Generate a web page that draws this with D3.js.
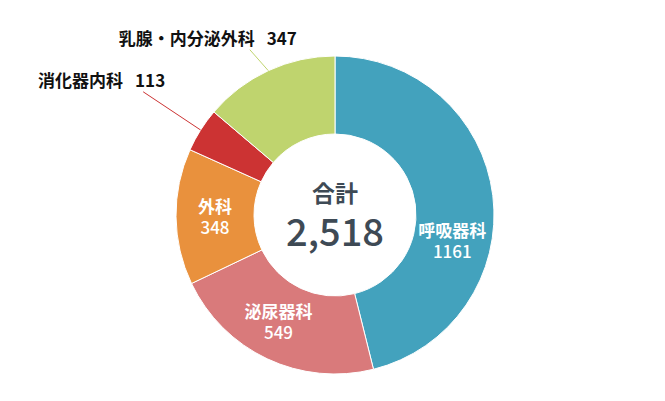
<!DOCTYPE html>
<html>
<head>
<meta charset="utf-8">
<script src="https://cdn.jsdelivr.net/npm/d3@7"></script>
<style>
  body { margin: 0; background: #fff; }
  text { font-family: "Noto Sans CJK JP", "Noto Sans", sans-serif; }
</style>
</head>
<body>
<svg id="chart" width="665" height="401"></svg>
<script>
// departments, clockwise from the top
const departments = ["呼吸器科", "泌尿器科", "外科", "消化器内科", "乳腺・内分泌外科"];
const counts = [1161, 549, 348, 113, 347];
const colors = ["#43a2bd", "#d97a7b", "#e9913d", "#cc3333", "#bfd46e"];
const totalLabel = "合計";

const CX = 335;
const CY = 215;
const OUTER_R = 159;
const INNER_R = 81;
const LABEL_R = 120;

// slices too thin for an inside label get a leader line
const outsideLabels = {
  "消化器内科": { r: 228, shift: 0.007, dx: 22, dy: -5 },
  "乳腺・内分泌外科": { r: 186, shift: -0.043, dx: 47, dy: -5 },
};
// small manual nudge of inside labels (angle, radians)
const insideShift = { "呼吸器科": 0.335, "泌尿器科": 0.05 };

const data = departments.map((name, i) => ({ name, value: counts[i], color: colors[i] }));
const total = d3.sum(counts);

const svg = d3.select("#chart");
const g = svg.append("g").attr("transform", `translate(${CX},${CY})`);

const pie = d3.pie().value((d) => d.value).sort(null);
const arc = d3.arc().innerRadius(INNER_R).outerRadius(OUTER_R);
const arcs = pie(data);

g.selectAll("path.slice")
  .data(arcs)
  .join("path")
  .attr("class", "slice")
  .attr("d", arc)
  .attr("fill", (d) => d.data.color)
  .attr("stroke", "#fff")
  .attr("stroke-width", 1);

// inside labels: name on one line, count below
const inside = arcs.filter((d) => !outsideLabels[d.data.name]);
const insideG = g.selectAll("g.inside")
  .data(inside)
  .join("g")
  .attr("class", "inside")
  .attr("text-anchor", "middle")
  .attr("fill", "#fff")
  .attr("font-size", 17)
  .attr("transform", (d) => {
    const a = (d.startAngle + d.endAngle) / 2 + (insideShift[d.data.name] || 0);
    const [x, y] = d3.pointRadial(a, LABEL_R);
    return `translate(${x},${y})`;
  });
insideG.append("text").attr("y", -3).attr("font-weight", 700).text((d) => d.data.name);
insideG.append("text").attr("y", 18).attr("font-weight", 500).text((d) => d.data.value);

// outside labels with leader lines
const outside = arcs.filter((d) => outsideLabels[d.data.name]);
outside.forEach((d) => {
  const cfg = outsideLabels[d.data.name];
  const mid = (d.startAngle + d.endAngle) / 2;
  const p0 = d3.pointRadial(mid, OUTER_R);
  const p1 = d3.pointRadial(mid + cfg.shift, cfg.r);
  g.append("line")
    .attr("x1", p0[0]).attr("y1", p0[1])
    .attr("x2", p1[0]).attr("y2", p1[1])
    .attr("stroke", d.data.color)
    .attr("stroke-width", 1);
  const t = g.append("text")
    .attr("x", p1[0] + cfg.dx)
    .attr("y", p1[1] + cfg.dy)
    .attr("text-anchor", "end")
    .attr("fill", "#111")
    .attr("font-size", 17)
    .attr("font-weight", 700);
  t.append("tspan").text(d.data.name);
  t.append("tspan").attr("dx", 12).text(d.data.value);
});

// centre total
g.append("text")
  .attr("text-anchor", "middle")
  .attr("y", -13)
  .attr("fill", "#3e4a55")
  .attr("font-size", 23)
  .attr("font-weight", 700)
  .text(totalLabel);
g.append("text")
  .attr("text-anchor", "middle")
  .attr("y", 31)
  .attr("fill", "#3e4a55")
  .attr("font-size", 38)
  .attr("font-weight", 500)
  .text(d3.format(",")(total));
</script>
</body>
</html>
